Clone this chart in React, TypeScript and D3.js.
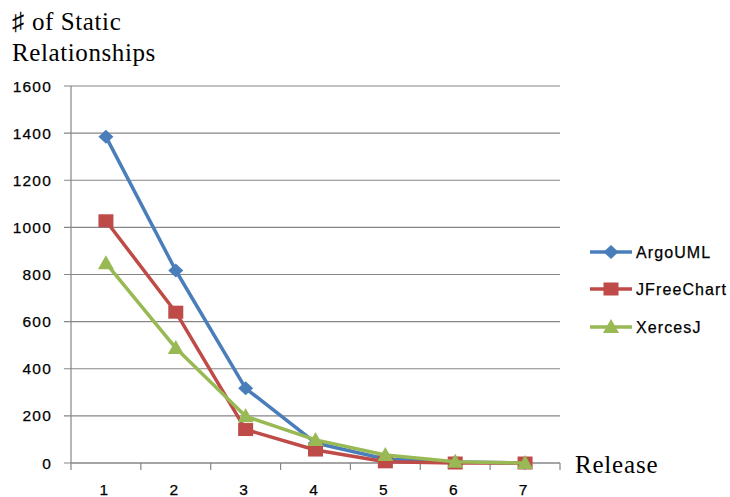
import React from "react";
import * as d3 from "d3";

const releases = ["1", "2", "3", "4", "5", "6", "7"];
const argoUML = [1385, 817, 317, 85, 17, 4, 0];
const jFreeChart = [1028, 640, 142, 55, 5, 0, 0];
const xercesJ = [848, 488, 198, 98, 34, 5, 0];
const yTicks = [0, 200, 400, 600, 800, 1000, 1200, 1400, 1600];

const seriesNames = ["ArgoUML", "JFreeChart", "XercesJ"];
const seriesColors = ["#4A7EBB", "#BE4B48", "#98B954"];
const seriesMarkers = ["diamond", "square", "triangle"];

const W = 730;
const H = 497;
const left = 71;
const right = 560;
const top = 86;
const bottom = 463;

function Marker({ kind, x, y, color }: { kind: string; x: number; y: number; color: string }) {
  if (kind === "diamond") {
    const p = `M${x},${y - 7} L${x + 7.5},${y} L${x},${y + 7} L${x - 7.5},${y} Z`;
    return <path d={p} fill={color} />;
  }
  if (kind === "square") {
    return <rect x={x - 7.5} y={y - 6.5} width={15} height={13} fill={color} />;
  }
  const p = `M${x},${y - 8} L${x + 8},${y + 6} L${x - 8},${y + 6} Z`;
  return <path d={p} fill={color} />;
}

export default function App() {
  const x = d3.scaleBand<string>().domain(releases).range([left, right]);
  const y = d3.scaleLinear().domain([0, 1600]).range([bottom, top]);
  const cx = (d: string) => (x(d) as number) + x.bandwidth() / 2;
  const line = d3
    .line<number>()
    .x((_, i) => cx(releases[i]))
    .y((v) => y(v));
  const series = [argoUML, jFreeChart, xercesJ];
  const axisColor = "#868686";
  const sans = "'Liberation Sans', Arial, sans-serif";
  const serif = "'Liberation Serif', 'Times New Roman', serif";
  const boundaries = [...releases.map((r) => x(r) as number), right];

  return (
    <div style={{ position: "absolute", left: 0, top: 0 }}>
      <svg width={W} height={H} style={{ display: "block", background: "#fff" }}>
        <text x={12} y={30} fontFamily={serif} fontSize={25} fill="#000" letterSpacing={0.6}>
          ♯ of Static
        </text>
        <text x={12} y={61} fontFamily={serif} fontSize={25} fill="#000" letterSpacing={0.6}>
          Relationships
        </text>
        {yTicks.map((t) => (
          <g key={t}>
            <line x1={64} x2={right} y1={y(t)} y2={y(t)} stroke={axisColor} strokeWidth={1.2} />
            <text
              x={52}
              y={y(t)}
              textAnchor="end"
              dominantBaseline="central"
              fontFamily={sans}
              fontSize={15.5}
              letterSpacing={1.2}
              fill="#000"
              stroke="#000"
              strokeWidth={0.25}
            >
              {t}
            </text>
          </g>
        ))}
        <line x1={left} x2={left} y1={top} y2={bottom} stroke={axisColor} strokeWidth={1.2} />
        <line x1={left} x2={right} y1={bottom} y2={bottom} stroke={axisColor} strokeWidth={1.2} />
        {boundaries.map((b, i) => (
          <line key={i} x1={b} x2={b} y1={bottom} y2={bottom + 7} stroke={axisColor} strokeWidth={1.2} />
        ))}
        {releases.map((r) => (
          <text
            key={r}
            x={cx(r) - 2}
            y={489}
            textAnchor="middle"
            dominantBaseline="central"
            fontFamily={sans}
            fontSize={15.5}
            fill="#000"
            stroke="#000"
            strokeWidth={0.25}
          >
            {r}
          </text>
        ))}
        <text x={575} y={473} fontFamily={serif} fontSize={25} fill="#000" letterSpacing={0.8}>
          Release
        </text>
        {series.map((s, si) => (
          <g key={si}>
            <path d={line(s) as string} fill="none" stroke={seriesColors[si]} strokeWidth={3.5} strokeLinejoin="round" />
            {s.map((v, i) => (
              <Marker key={i} kind={seriesMarkers[si]} x={cx(releases[i])} y={y(v)} color={seriesColors[si]} />
            ))}
          </g>
        ))}
        {seriesNames.map((n, i) => {
          const ly = [252, 289, 327][i];
          return (
            <g key={n}>
              <line x1={590} x2={632} y1={ly} y2={ly} stroke={seriesColors[i]} strokeWidth={3.5} />
              <Marker kind={seriesMarkers[i]} x={611} y={ly} color={seriesColors[i]} />
              <text
                x={636}
                y={ly}
                dominantBaseline="central"
                fontFamily={sans}
                fontSize={16}
                letterSpacing={1.1}
                fill="#000"
                stroke="#000"
                strokeWidth={0.25}
              >
                {n}
              </text>
            </g>
          );
        })}
      </svg>
    </div>
  );
}
